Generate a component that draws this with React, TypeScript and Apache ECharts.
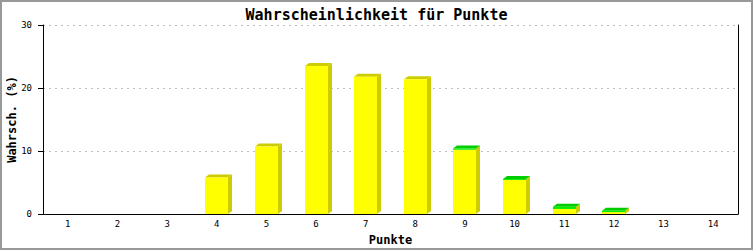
import React, { useEffect, useRef } from "react";
import * as echarts from "echarts";

const categories = ["1", "2", "3", "4", "5", "6", "7", "8", "9", "10", "11", "12", "13", "14"];
const yellowValues = [0, 0, 0, 5.8, 10.7, 23.5, 21.8, 21.4, 10.2, 5.4, 0.8, 0.3, 0, 0];
const greenValues = [0, 0, 0, 0, 0, 0, 0, 0, 0.2, 0.15, 0.35, 0.2, 0, 0];
const yTicks = [0, 10, 20, 30];

const FONT = "'DejaVu Sans Mono', 'Liberation Mono', monospace";

export default function App() {
  const ref = useRef<HTMLDivElement>(null);

  useEffect(() => {
    document.body.style.margin = "0";
    if (!ref.current) return;
    const chart = echarts.init(ref.current, null, { renderer: "svg" });
    const data = categories.map((_, i) => [i, yellowValues[i], greenValues[i]]);

    chart.setOption({
      animation: false,
      backgroundColor: "#ffffff",
      title: {
        text: "Wahrscheinlichkeit für Punkte",
        left: "center",
        top: 2,
        textStyle: { fontFamily: FONT, fontSize: 15, fontWeight: "bold", color: "#000" },
      },
      graphic: [
        {
          type: "rect",
          shape: { x: 1, y: 1, width: 751, height: 248 },
          style: { fill: "none", stroke: "#999999", lineWidth: 2 },
          silent: true,
          z: 100,
        },
      ],
      grid: { left: 43, right: 15, top: 25, bottom: 36, outerBoundsMode: "none", containLabel: false },
      xAxis: {
        type: "category",
        data: categories,
        name: "Punkte",
        nameLocation: "middle",
        nameGap: 20,
        nameMoveOverlap: false,
        nameTextStyle: { fontFamily: FONT, fontSize: 12, fontWeight: "bold", color: "#000" },
        axisLine: { lineStyle: { color: "#000", width: 1 } },
        axisTick: { show: false },
        axisLabel: { fontFamily: FONT, fontSize: 9, color: "#000", margin: 5 },
      },
      yAxis: [
        {
          type: "value",
          min: yTicks[0],
          max: yTicks[yTicks.length - 1],
          interval: 10,
          name: "Wahrsch. (%)",
          nameLocation: "middle",
          nameGap: 25,
          nameMoveOverlap: false,
          nameTextStyle: { fontFamily: FONT, fontSize: 12, fontWeight: "bold", color: "#000" },
          axisLine: { show: true, lineStyle: { color: "#000", width: 1 } },
          axisTick: { show: true, length: 5, lineStyle: { color: "#000" } },
          axisLabel: { fontFamily: FONT, fontSize: 9, color: "#000", margin: 11 },
          splitLine: { show: true, lineStyle: { color: "#c0c0c0", type: [2, 4], width: 1 } },
        },
        {
          type: "value",
          min: yTicks[0],
          max: yTicks[yTicks.length - 1],
          interval: 10,
          position: "right",
          axisLine: { show: true, lineStyle: { color: "#000", width: 1 } },
          axisTick: { show: false },
          axisLabel: { show: false },
          splitLine: { show: false },
        },
      ],
      series: [
        {
          type: "custom",
          data,
          encode: { x: 0, y: [1, 2] },
          renderItem: (params: any, api: any) => {
            const idx = api.value(0);
            const yv = api.value(1);
            const gv = api.value(2);
            if (yv + gv <= 0) return null;
            const base = api.coord([idx, 0]);
            const pY = api.coord([idx, yv]);
            const pT = api.coord([idx, yv + gv]);
            const band = api.size([1, 0])[0];
            const w = Math.round(band * 0.46);
            const left = Math.round(base[0] - w / 2);
            const baseY = base[1];
            const topY = pT[1];
            const dx = 4;
            const dy = 3;
            const children: any[] = [
              {
                type: "polygon",
                shape: {
                  points: [
                    [left + w, topY],
                    [left + w + dx, topY - dy],
                    [left + w + dx, baseY - dy],
                    [left + w, baseY],
                  ],
                },
                style: { fill: "#cccc00" },
              },
              {
                type: "polygon",
                shape: {
                  points: [
                    [left, topY],
                    [left + dx, topY - dy],
                    [left + w + dx, topY - dy],
                    [left + w, topY],
                  ],
                },
                style: { fill: gv > 0 ? "#00cc00" : "#cccc00" },
              },
              {
                type: "rect",
                shape: { x: left, y: pY[1], width: w, height: baseY - pY[1] },
                style: { fill: "#ffff00" },
              },
            ];
            if (gv > 0) {
              children.push({
                type: "rect",
                shape: { x: left, y: pT[1], width: w, height: pY[1] - pT[1] },
                style: { fill: "#00ee00" },
              });
            }
            return { type: "group", children };
          },
        },
      ],
    });

    return () => chart.dispose();
  }, []);

  return <div ref={ref} style={{ width: 753, height: 250 }} />;
}
